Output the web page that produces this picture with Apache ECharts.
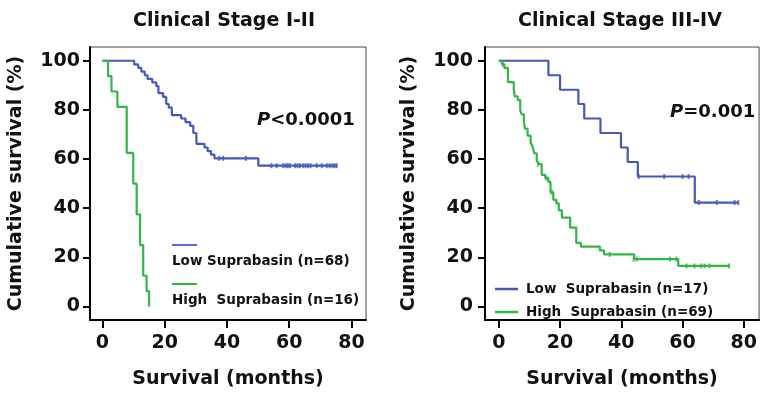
<!DOCTYPE html>
<html>
<head>
<meta charset="utf-8">
<script src="https://cdn.jsdelivr.net/npm/echarts@6/dist/echarts.min.js"></script>
<style>
  html, body { margin: 0; padding: 0; background: #fff; }
  #chart { width: 760px; height: 394px; }
</style>
</head>
<body>
<div id="chart"></div>
<script>
// ticks
const xTicks = [0, 20, 40, 60, 80];
const yTicks = [0, 20, 40, 60, 80, 100];

// Stage I-II, low expression (n=68): event times (months) and survival (%)
const lowT1 = [0, 10.2, 11.5, 12.5, 13.6, 14.5, 16.0, 17.3, 18.0, 19.5, 20.5, 21.3, 22.3, 25.3, 26.7, 28.2, 29.2, 30.2, 32.8, 33.8, 34.9, 36.0, 50.1, 75.3];
const lowS1 = [100, 98.5, 97.1, 95.6, 94.1, 92.6, 91.2, 89.7, 86.8, 85.3, 82.4, 80.9, 77.9, 76.5, 75.0, 73.5, 70.6, 66.2, 64.7, 63.2, 61.8, 60.3, 57.3, 57.3];
const lowCensT1 = [37.5, 38.8, 46.1, 54.3, 56.0, 58.1, 58.9, 59.6, 60.3, 61.9, 62.7, 63.5, 64.5, 65.3, 66.1, 66.9, 68.9, 70.5, 72.1, 73.0, 73.9, 74.6, 75.3];
const lowCensS1 = [60.3, 60.3, 60.3, 57.3, 57.3, 57.3, 57.3, 57.3, 57.3, 57.3, 57.3, 57.3, 57.3, 57.3, 57.3, 57.3, 57.3, 57.3, 57.3, 57.3, 57.3, 57.3, 57.3];

// Stage I-II, high expression (n=16)
const highT1 = [0, 1.8, 2.9, 4.8, 7.8, 9.9, 11.0, 12.1, 13.1, 14.2, 15.0];
const highS1 = [100, 93.75, 87.5, 81.25, 62.5, 50, 37.5, 25, 12.5, 6.25, 0];

// Stage III-IV, low expression (n=17)
const lowT2 = [0, 16.2, 20.0, 26.0, 27.9, 33.2, 39.9, 42.1, 45.4, 64.0, 78.3];
const lowS2 = [100, 94.1, 88.2, 82.4, 76.5, 70.6, 64.7, 58.8, 52.9, 42.3, 42.3];
const lowCensT2 = [45.7, 54.0, 60.0, 62.0, 65.3, 71.2, 77.0, 78.2];
const lowCensS2 = [52.9, 52.9, 52.9, 52.9, 42.3, 42.3, 42.3, 42.3];

// Stage III-IV, high expression (n=69)
const highT2 = [0, 1.0, 1.8, 3.0, 4.9, 5.2, 6.2, 7.0, 7.5, 8.2, 8.5, 9.4, 10.4, 11.0, 11.6, 12.4, 13.0, 14.0, 15.2, 16.2, 16.9, 17.8, 18.8, 19.6, 20.6, 23.3, 25.3, 26.8, 33.0, 34.4, 44.2, 58.6, 75.5];
const highS2 = [100, 98.6, 97.1, 91.3, 88.4, 85.5, 84.0, 79.7, 78.2, 75.3, 72.4, 69.5, 66.6, 65.2, 62.3, 59.4, 58.0, 53.6, 52.2, 50.7, 46.4, 43.4, 42.0, 39.1, 36.2, 32.1, 25.9, 24.4, 22.8, 21.2, 19.3, 16.5, 16.5];
const highCensT2 = [1.3, 12.8, 15.6, 17.4, 36.2, 44.0, 45.0, 55.9, 58.0, 61.3, 63.9, 66.1, 67.2, 68.8, 75.2];
const highCensS2 = [98.6, 58.0, 52.2, 46.4, 21.2, 19.3, 19.3, 19.3, 19.3, 16.5, 16.5, 16.5, 16.5, 16.5, 16.5];

const names1 = ['Low Suprabasin (n=68)', 'High  Suprabasin (n=16)'];
const names2 = ['Low  Suprabasin (n=17)', 'High  Suprabasin (n=69)'];

const BLUE = '#4658b8';
const GREEN = '#35b548';
const FONT = '"DejaVu Sans", sans-serif';

function zip(a, b) { return a.map((v, i) => [v, b[i]]); }

const chart = echarts.init(document.getElementById('chart'));

const txt = { color: '#111', fontFamily: FONT, fontWeight: 'bold', fontSize: 19 };

function xAxisOf(idx, min, max) {
  return {
    type: 'value', gridIndex: idx, min: min, max: max,
    name: 'Survival (months)', nameLocation: 'middle', nameGap: 50,
    nameTextStyle: txt,
    axisLine: { show: true, onZero: false, lineStyle: { color: '#000', width: 2 } },
    axisTick: { show: true, length: 8, customValues: xTicks, lineStyle: { color: '#000', width: 2 } },
    axisLabel: Object.assign({ margin: 14, customValues: xTicks }, txt),
    splitLine: { show: false }
  };
}
function yAxisOf(idx, gap, lmargin) {
  return {
    type: 'value', gridIndex: idx, min: -5.5, max: 105.6,
    name: 'Cumulative survival (%)', nameLocation: 'middle', nameGap: gap,
    nameTextStyle: txt,
    axisLine: { show: true, onZero: false, lineStyle: { color: '#000', width: 2 } },
    axisTick: { show: true, length: 7, customValues: yTicks, lineStyle: { color: '#000', width: 2 } },
    axisLabel: Object.assign({ margin: lmargin, customValues: yTicks }, txt),
    splitLine: { show: false }
  };
}
function curve(name, idx, t, s, color) {
  return {
    name: name, type: 'line', xAxisIndex: idx, yAxisIndex: idx, step: 'end',
    symbol: 'none', data: zip(t, s), color: color,
    lineStyle: { color: color, width: 2.2 }, silent: true
  };
}
function censor(idx, t, s, color) {
  return {
    name: 'censor' + idx + color, type: 'scatter', xAxisIndex: idx, yAxisIndex: idx,
    symbol: 'rect', symbolSize: [2, 5], data: zip(t, s),
    itemStyle: { color: color }, silent: true
  };
}

const option = {
  animation: false,
  backgroundColor: '#fff',
  title: [
    { text: 'Clinical Stage I-II', left: 224, top: 12, textAlign: 'center', padding: 0, textStyle: txt },
    { text: 'Clinical Stage III-IV', left: 620, top: 12, textAlign: 'center', padding: 0, textStyle: txt },
    { text: '{i|P}<0.0001', left: 257, top: 111, padding: 0,
      textStyle: Object.assign({}, txt, { fontSize: 18, rich: { i: { fontStyle: 'italic', fontWeight: 'bold', fontSize: 18, fontFamily: FONT, color: '#111' } } }) },
    { text: '{i|P}=0.001', left: 670, top: 103, padding: 0,
      textStyle: Object.assign({}, txt, { fontSize: 18, rich: { i: { fontStyle: 'italic', fontWeight: 'bold', fontSize: 18, fontFamily: FONT, color: '#111' } } }) }
  ],
  legend: [
    {
      data: names1, orient: 'vertical', left: 162, top: 234, itemGap: 10,
      icon: 'none', itemWidth: 0, itemHeight: 0, selectedMode: false,
      formatter: name => '{b' + names1.indexOf(name) + '|}\n{t|' + name + '}',
      textStyle: {
        rich: {
          b0: { width: 25, height: 2, backgroundColor: '#5a6ad8', lineHeight: 14 },
          b1: { width: 25, height: 2, backgroundColor: GREEN, lineHeight: 14 },
          t: { fontFamily: FONT, fontWeight: 'bold', fontSize: 13.5, color: '#111', lineHeight: 18 }
        }
      }
    },
    {
      data: names2, orient: 'vertical', left: 490, top: 276, itemGap: 7,
      icon: 'rect', itemWidth: 23, itemHeight: 2.5, selectedMode: false,
      textStyle: { fontFamily: FONT, fontWeight: 'bold', fontSize: 13.5, color: '#111', lineHeight: 16, padding: [0, 0, 0, 3] }
    }
  ],
  grid: [
    { left: 90, top: 47, width: 276, height: 273, show: true, borderColor: '#444', borderWidth: 1 },
    { left: 485, top: 47, width: 279, height: 273, show: true, borderColor: '#444', borderWidth: 1 }
  ],
  xAxis: [xAxisOf(0, -4.0, 84.7), xAxisOf(1, -4.5, 85.0)],
  yAxis: [yAxisOf(0, 64, 10), yAxisOf(1, 66, 12)],
  series: [
    curve(names1[0], 0, lowT1, lowS1, BLUE),
    curve(names1[1], 0, highT1, highS1, GREEN),
    censor(0, lowCensT1, lowCensS1, BLUE),
    curve(names2[0], 1, lowT2, lowS2, BLUE),
    curve(names2[1], 1, highT2, highS2, GREEN),
    censor(1, lowCensT2, lowCensS2, BLUE),
    censor(1, highCensT2, highCensS2, GREEN)
  ]
};

chart.setOption(option);
</script>
</body>
</html>
